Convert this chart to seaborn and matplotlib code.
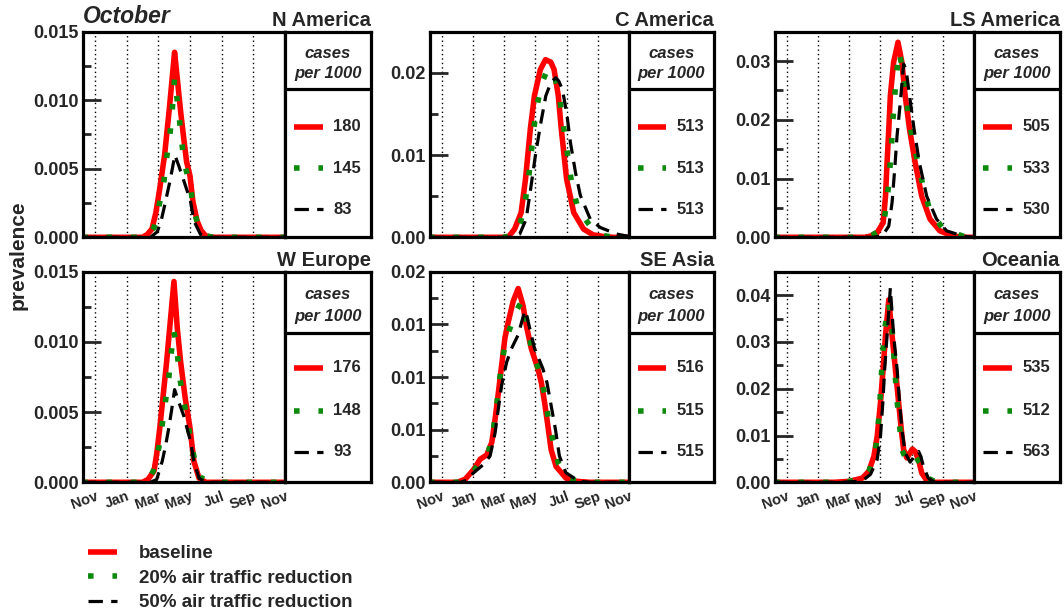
import matplotlib
matplotlib.use("Agg")
import matplotlib.pyplot as plt
import seaborn as sns
from matplotlib.ticker import FixedLocator, FixedFormatter, MultipleLocator
from matplotlib.lines import Line2D

sns.set_style("white")
plt.rcParams['font.family'] = ['Liberation Sans', 'DejaVu Sans']
plt.rcParams['font.weight'] = 'bold'

# ---------------- data (x = months after 1 Nov) ----------------
month_ticks = [0, 2, 4, 6, 8, 10, 12]
month_labels = ['Nov', 'Jan', 'Mar', 'May', 'Jul', 'Sep', 'Nov']
scenarios = ['baseline', '20% air traffic reduction', '50% air traffic reduction']
regions = ['N America', 'C America', 'LS America', 'W Europe', 'SE Asia', 'Oceania']

na_cases = [180, 145, 83]
ca_cases = [513, 513, 513]
ls_cases = [505, 533, 530]
we_cases = [176, 148, 93]
se_cases = [516, 515, 515]
oc_cases = [535, 512, 563]

na_base_x = [-0.8, 3.0, 3.3, 3.6, 3.85, 4.1, 4.4, 4.7, 5.03, 5.2, 5.41, 5.6, 5.79, 6.0, 6.19, 6.45, 6.7, 7.0, 7.5, 12.0]
na_base_y = [0, 0, 0.0002, 0.0006, 0.0018, 0.0036, 0.0060, 0.0094, 0.0135, 0.0116, 0.0092, 0.0073, 0.0055, 0.0045, 0.0026, 0.0012, 0.0005, 0.0001, 0, 0]
na_20_x = [-0.8, 3.0, 3.4, 3.73, 4.0, 4.36, 4.53, 4.74, 4.88, 5.03, 5.3, 5.45, 5.62, 5.85, 6.04, 6.2, 6.57, 7.0, 7.5, 12.0]
na_20_y = [0, 0, 0.0002, 0.0007, 0.0020, 0.0041, 0.0058, 0.0075, 0.0092, 0.0116, 0.0090, 0.0073, 0.0055, 0.0045, 0.0037, 0.0022, 0.0006, 0.0001, 0, 0]
na_50_x = [-0.8, 3.5, 3.94, 4.2, 4.36, 4.55, 4.74, 5.05, 5.3, 5.62, 5.85, 6.04, 6.25, 6.67, 7.2, 12.0]
na_50_y = [0, 0, 0.0004, 0.0013, 0.0021, 0.0031, 0.0041, 0.0060, 0.0052, 0.0041, 0.0033, 0.0026, 0.0012, 0.0002, 0, 0]

we_base_x = [-0.8, 3.0, 3.35, 3.73, 3.9, 4.1, 4.53, 4.99, 5.2, 5.41, 5.7, 6.0, 6.25, 6.57, 7.0, 12.0]
we_base_y = [0, 0, 0.0002, 0.0008, 0.0020, 0.0039, 0.0086, 0.0143, 0.0110, 0.0086, 0.0060, 0.0039, 0.0015, 0.0003, 0, 0]
we_20_x = [-0.8, 3.0, 3.4, 3.68, 4.04, 4.25, 4.46, 4.67, 4.82, 4.97, 5.16, 5.31, 5.52, 5.79, 6.04, 6.29, 6.6, 7.09, 7.5, 12.0]
we_20_y = [0, 0, 0.0002, 0.0008, 0.0025, 0.0041, 0.0058, 0.0075, 0.0092, 0.0108, 0.0098, 0.0078, 0.0063, 0.0047, 0.0031, 0.0016, 0.0004, 0.0001, 0, 0]
we_50_x = [-0.8, 3.5, 3.9, 4.25, 4.46, 4.67, 4.85, 5.03, 5.3, 5.62, 5.85, 6.04, 6.25, 6.57, 7.0, 12.0]
we_50_y = [0, 0, 0.0002, 0.0015, 0.0026, 0.0039, 0.0052, 0.0066, 0.0057, 0.0047, 0.0037, 0.0029, 0.0015, 0.0003, 0, 0]

ca_base_x = [-0.8, 4.0, 4.3, 4.67, 5.09, 5.37, 5.68, 5.94, 6.32, 6.65, 6.99, 7.2, 7.47, 7.66, 8.0, 8.46, 9.09, 9.7, 10.36, 11.0, 12.0]
ca_base_y = [0, 0, 0.0001, 0.0010, 0.0030, 0.0071, 0.0132, 0.0172, 0.0204, 0.0216, 0.0213, 0.0204, 0.0172, 0.0132, 0.0071, 0.0030, 0.0010, 0.0003, 0.0001, 0, 0]
ca_20_x = [-0.8, 4.0, 4.6, 5.05, 5.37, 5.58, 5.73, 5.89, 6.1, 6.4, 6.8, 7.16, 7.52, 7.73, 7.94, 8.15, 8.36, 8.78, 9.68, 10.4, 11.0, 12.0]
ca_20_y = [0, 0, 0.0003, 0.0018, 0.0046, 0.0074, 0.0102, 0.0131, 0.0159, 0.0187, 0.0205, 0.0202, 0.0174, 0.0146, 0.0117, 0.0089, 0.0061, 0.0032, 0.0010, 0.0002, 0, 0]
ca_50_x = [-0.8, 4.5, 5.0, 5.41, 5.73, 6.0, 6.32, 6.67, 6.99, 7.3, 7.5, 7.73, 8.0, 8.25, 8.57, 8.88, 9.52, 10.15, 11.2, 12.0]
ca_50_y = [0, 0, 0.0004, 0.0022, 0.0063, 0.0099, 0.0136, 0.0172, 0.0188, 0.0194, 0.0190, 0.0180, 0.0152, 0.0115, 0.0079, 0.0051, 0.0022, 0.0012, 0.0004, 0.0001]

ls_base_x = [-0.8, 5.0, 5.37, 5.8, 6.18, 6.33, 6.43, 6.54, 6.64, 6.85, 7.13, 7.38, 7.59, 7.87, 8.23, 8.65, 9.18, 9.81, 10.66, 11.5, 12.0]
ls_base_y = [0, 0, 0.0002, 0.0008, 0.0025, 0.0070, 0.0127, 0.0184, 0.0241, 0.0298, 0.0332, 0.0298, 0.0241, 0.0184, 0.0127, 0.0070, 0.0031, 0.0011, 0.0002, 0, 0]
ls_20_x = [-0.8, 5.0, 5.48, 6.0, 6.26, 6.47, 6.6, 6.71, 6.79, 6.9, 7.02, 7.19, 7.4, 7.66, 7.81, 8.12, 8.44, 8.76, 9.18, 10.03, 11.4, 12.0]
ls_20_y = [0, 0, 0.0004, 0.0012, 0.0032, 0.0073, 0.0114, 0.0153, 0.0194, 0.0234, 0.0273, 0.0316, 0.0290, 0.0241, 0.0201, 0.0161, 0.0123, 0.0085, 0.0045, 0.0014, 0.0001, 0]
ls_50_x = [-0.8, 5.5, 6.11, 6.54, 6.75, 6.92, 7.07, 7.28, 7.49, 7.65, 7.87, 8.16, 8.5, 8.97, 9.6, 10.24, 11.3, 12.0]
ls_50_y = [0, 0, 0.0002, 0.0019, 0.0059, 0.0116, 0.0173, 0.0230, 0.0295, 0.0285, 0.0241, 0.0184, 0.0127, 0.0070, 0.0031, 0.0011, 0.0002, 0]

se_base_x = [-0.8, 1.0, 1.51, 2.04, 2.47, 2.89, 3.21, 3.42, 3.63, 3.84, 4.05, 4.26, 4.58, 4.9, 5.21, 5.42, 5.74, 6.16, 6.38, 6.59, 6.8, 7.01, 7.33, 7.96, 8.6, 9.5, 12.0]
se_base_y = [0, 0, 0.0003, 0.0012, 0.0022, 0.0026, 0.0038, 0.0060, 0.0085, 0.0111, 0.0137, 0.0152, 0.0172, 0.0184, 0.0168, 0.0149, 0.0127, 0.0108, 0.0095, 0.0076, 0.0054, 0.0031, 0.0015, 0.0004, 0.0001, 0, 0]
se_20_x = [-0.8, 1.0, 1.6, 2.08, 2.5, 2.99, 3.31, 3.52, 3.69, 3.88, 4.2, 4.75, 5.05, 5.21, 5.49, 5.74, 6.23, 6.59, 6.82, 7.12, 7.48, 8.0, 8.49, 9.5, 12.0]
se_20_y = [0, 0, 0.0003, 0.0011, 0.0021, 0.0028, 0.0050, 0.0073, 0.0095, 0.0117, 0.0139, 0.0162, 0.0170, 0.0172, 0.0150, 0.0128, 0.0106, 0.0084, 0.0062, 0.0040, 0.0018, 0.0006, 0.0002, 0, 0]
se_50_x = [-0.8, 1.2, 1.6, 2.04, 2.68, 3.1, 3.42, 3.63, 3.84, 4.16, 4.47, 4.9, 5.21, 5.35, 5.5, 5.74, 5.95, 6.48, 6.74, 7.01, 7.29, 7.54, 7.96, 8.81, 9.5, 12.0]
se_50_y = [0, 0, 0.0002, 0.0009, 0.0017, 0.0025, 0.0047, 0.0070, 0.0092, 0.0114, 0.0127, 0.0140, 0.0157, 0.0163, 0.0155, 0.0140, 0.0127, 0.0108, 0.0095, 0.0073, 0.0050, 0.0025, 0.0009, 0.0001, 0, 0]

oc_base_x = [-0.8, 3.0, 4.0, 4.85, 5.27, 5.59, 5.8, 6.01, 6.18, 6.33, 6.54, 6.75, 6.96, 7.17, 7.34, 7.49, 7.7, 7.9, 8.05, 8.23, 8.44, 8.65, 8.97, 9.39, 12.0]
oc_base_y = [0, 0, 0.0002, 0.0009, 0.0024, 0.0056, 0.0099, 0.0171, 0.0243, 0.0314, 0.0390, 0.0314, 0.0243, 0.0171, 0.0113, 0.0070, 0.0052, 0.0063, 0.0071, 0.0066, 0.0049, 0.0020, 0.0004, 0, 0]
oc_20_x = [-0.8, 3.0, 4.0, 4.85, 5.27, 5.69, 5.86, 5.97, 6.05, 6.16, 6.26, 6.55, 6.75, 6.85, 6.96, 7.07, 7.23, 7.38, 7.6, 7.85, 8.02, 8.3, 8.76, 9.1, 9.6, 12.0]
oc_20_y = [0, 0, 0.0002, 0.0008, 0.0024, 0.0067, 0.0121, 0.0171, 0.0221, 0.0275, 0.0325, 0.0382, 0.0329, 0.0279, 0.0225, 0.0175, 0.0122, 0.0070, 0.0052, 0.0060, 0.0065, 0.0052, 0.0031, 0.0008, 0, 0]
oc_50_x = [-0.8, 3.5, 4.5, 4.95, 5.37, 5.8, 6.01, 6.16, 6.28, 6.43, 6.64, 6.85, 7.07, 7.23, 7.38, 7.59, 7.91, 8.1, 8.23, 8.45, 8.6, 8.76, 9.07, 9.5, 12.0]
oc_50_y = [0, 0, 0.0002, 0.0006, 0.0017, 0.0049, 0.0099, 0.0171, 0.0243, 0.0314, 0.0415, 0.0314, 0.0243, 0.0171, 0.0113, 0.0063, 0.0043, 0.0052, 0.0060, 0.0066, 0.0055, 0.0034, 0.0009, 0, 0]

# y axis settings per region
na_yticks = [0, 0.005, 0.010, 0.015]
na_ylabels = ['0.000', '0.005', '0.010', '0.015']
ca_yticks = [0, 0.01, 0.02]
ca_ylabels = ['0.00', '0.01', '0.02']
ls_yticks = [0, 0.01, 0.02, 0.03]
ls_ylabels = ['0.00', '0.01', '0.02', '0.03']
we_yticks = [0, 0.005, 0.010, 0.015]
we_ylabels = ['0.000', '0.005', '0.010', '0.015']
se_yticks = [0, 0.005, 0.010, 0.015, 0.020]
se_ylabels = ['0.00', '0.01', '0.01', '0.01', '0.02']
oc_yticks = [0, 0.01, 0.02, 0.03, 0.04]
oc_ylabels = ['0.00', '0.01', '0.02', '0.03', '0.04']

# ---------------- styling ----------------
colors = ['#ff0000', '#0b8a0b', '#000000']
widths = [4.0, 4.0, 2.3]
styles = ['-', (0, (1, 3.4)), (0, (4.5, 2.6))]

panels = [
    ('N America', [(na_base_x, na_base_y), (na_20_x, na_20_y), (na_50_x, na_50_y)], na_cases, 0.015, na_yticks, na_ylabels, 0.0025),
    ('C America', [(ca_base_x, ca_base_y), (ca_20_x, ca_20_y), (ca_50_x, ca_50_y)], ca_cases, 0.025, ca_yticks, ca_ylabels, 0.005),
    ('LS America', [(ls_base_x, ls_base_y), (ls_20_x, ls_20_y), (ls_50_x, ls_50_y)], ls_cases, 0.035, ls_yticks, ls_ylabels, 0.005),
    ('W Europe', [(we_base_x, we_base_y), (we_20_x, we_20_y), (we_50_x, we_50_y)], we_cases, 0.015, we_yticks, we_ylabels, 0.0025),
    ('SE Asia', [(se_base_x, se_base_y), (se_20_x, se_20_y), (se_50_x, se_50_y)], se_cases, 0.020, se_yticks, se_ylabels, 0.0025),
    ('Oceania', [(oc_base_x, oc_base_y), (oc_20_x, oc_20_y), (oc_50_x, oc_50_y)], oc_cases, 0.045, oc_yticks, oc_ylabels, 0.005),
]

W, H = 1064, 615
fig = plt.figure(figsize=(W / 100, H / 100), dpi=100)
cols = [(83, 285, 371), (430, 629, 714), (775, 974, 1060)]
rows = [(31.7, 237.3), (271.7, 482.3)]
spine_w = 2.3

def fx(p):
    return p / W

def fy(p):
    return 1 - p / H

for i, (name, series, cases, ytop, yt, ylab, minor) in enumerate(panels):
    r, c = divmod(i, 3)
    l, rr, lr = cols[c]
    t, b = rows[r]
    ax = fig.add_axes([fx(l), fy(b), (rr - l) / W, (b - t) / H])
    lg = fig.add_axes([fx(rr), fy(b), (lr - rr) / W, (b - t) / H])

    for m in month_ticks[:-1]:
        ax.axvline(m, color='black', lw=1.0, linestyle=(0, (1, 2.2)), zorder=0.5)

    for k, (xs, ys) in enumerate(series):
        sns.lineplot(x=xs, y=ys, ax=ax, color=colors[k], lw=widths[k],
                     sort=False, estimator=None, label=scenarios[k], legend=False)
        ln = ax.lines[-1]
        ln.set_linestyle(styles[k])
        ln.set_dash_capstyle('butt')
        ln.set_solid_capstyle('butt')

    ax.set_xlim(-0.75, 12)
    ax.set_ylim(0, ytop)
    ax.set_xlabel('')
    ax.set_ylabel('')
    ax.yaxis.set_major_locator(FixedLocator(yt))
    ax.yaxis.set_major_formatter(FixedFormatter(ylab))
    ax.yaxis.set_minor_locator(MultipleLocator(minor))
    ax.tick_params(axis='y', which='major', direction='in', length=13, width=2.0,
                   labelsize=13, pad=3, left=True, right=False)
    ax.tick_params(axis='y', which='minor', direction='in', length=6, width=2.0,
                   left=True, right=False)
    ax.set_xticks(month_ticks)
    ax.tick_params(axis='x', length=0, pad=5)
    if r == 1:
        ax.set_xticklabels(month_labels, rotation=20, ha='right',
                           rotation_mode='anchor', fontsize=10.5, fontweight='bold')
    else:
        ax.set_xticklabels([])
    for lab in ax.get_yticklabels():
        lab.set_fontweight('bold')
    for sp in ax.spines.values():
        sp.set_linewidth(spine_w)
        sp.set_color('black')
        sp.set_zorder(3)

    # side box with cases per 1000
    lg.set_xlim(0, 1)
    lg.set_ylim(0, 1)
    lg.set_xticks([])
    lg.set_yticks([])
    for sp in lg.spines.values():
        sp.set_linewidth(spine_w)
        sp.set_color('black')
    hdr = 0.722 if r == 0 else 0.71
    lg.axhline(hdr, color='black', lw=spine_w)
    lg.text(0.5, 0.895 if r == 0 else 0.89, 'cases', ha='center', va='center',
            fontsize=12, fontstyle='italic', fontweight='bold')
    lg.text(0.5, 0.795 if r == 0 else 0.785, 'per 1000', ha='center', va='center',
            fontsize=12, fontstyle='italic', fontweight='bold')
    ypos = [0.537, 0.337, 0.137] if r == 0 else [0.545, 0.34, 0.145]
    for k in range(3):
        lg.plot([0.105, 0.44], [ypos[k], ypos[k]], color=colors[k], lw=widths[k],
                linestyle=styles[k], dash_capstyle='butt', solid_capstyle='butt')
        lg.text(0.56, ypos[k], str(cases[k]), ha='left', va='center',
                fontsize=12, fontweight='bold')

    lg.annotate(name, xy=(1.0, 1.0), xycoords='axes fraction', xytext=(0, 4),
                textcoords='offset points', ha='right', va='baseline',
                fontsize=14.5, fontweight='bold')
    if i == 0:
        ax.annotate('October', xy=(0.0, 1.0), xycoords='axes fraction', xytext=(0, 6),
                    textcoords='offset points', ha='left', va='baseline',
                    fontsize=16.5, fontweight='bold', fontstyle='italic')

fig.text(fx(18), fy(255), 'prevalence', rotation=90, ha='center', va='center',
         fontsize=15, fontweight='bold')

handles = [Line2D([], [], color=colors[k], lw=widths[k], linestyle=styles[k],
                  dash_capstyle='butt', solid_capstyle='butt') for k in range(3)]
fig.legend(handles, scenarios, loc='upper left', bbox_to_anchor=(fx(88), fy(545)),
           frameon=False, borderaxespad=0, borderpad=0, handlelength=1.55,
           handletextpad=1.15, labelspacing=0.4,
           prop={'size': 13.5, 'weight': 'bold'})

fig.savefig('out.png', dpi=100)
